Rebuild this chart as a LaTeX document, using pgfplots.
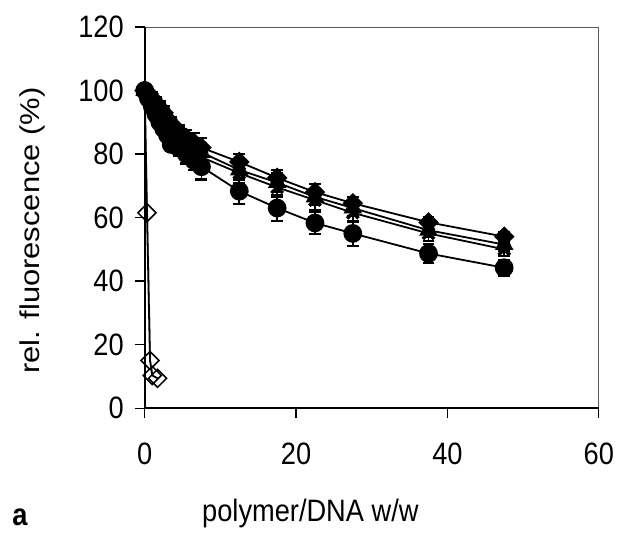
\documentclass[border=0pt]{standalone}
\usepackage{fontspec}
\setmainfont{Liberation Sans}
\usepackage{pgfplots}
\pgfplotsset{compat=1.18}
\newcommand\bigf{\fontsize{31}{36}\selectfont}
\begin{document}
\bigf
\begin{tikzpicture}[x=1pt,y=1pt]
\begin{axis}[
  at={(0,0)}, anchor=origin,
  scale only axis, width=455pt, height=382pt,
  xmin=0, xmax=60, ymin=0, ymax=120,
  xtick={0,20,40,60}, ytick={0,20,...,120},
  xtick pos=left, ytick pos=left,
  tick align=outside, major tick length=10pt,
  tick style={black, line width=1.2pt},
  axis line style={gray!70!black, line width=0.8pt},
  /pgf/number format/assume math mode=true,
  ticklabel style={font=\bigf, xscale=0.88},
  xticklabel style={yshift=-14pt},
  yticklabel style={xshift=-2pt},
  clip=false,
  every axis plot/.append style={line width=1.8pt, black},
  error bars/error bar style={line width=1.8pt, black},
  error bars/error mark options={line width=2.2pt, mark size=6pt, rotate=90},
]
% open diamonds
\addplot[gray!70, line width=1.5pt, mark=none] coordinates {(0,100) (0.35,61.5) (0.75,15) (1.1,10.2)};
\addplot[mark=square, mark size=6.4pt, mark options={fill=white, line width=1.5pt, rotate=45}] coordinates {(0,100) (0.3,61.5) (0.7,15) (1.0,10.3) (1.7,9.4)};
% circles
\addplot[mark=*, mark size=8.5pt, error bars/.cd, y dir=both, y explicit] table[x=x,y=y,y error=e] {
x y e
0 100 1
0.5 97.5 1.5
1 95 2
1.5 92.5 2
2 90 2
2.5 88 2
3 86 2
3.5 83 2
4.5 82 2.5
5.5 80 3
6.5 78 3
7.5 76 4
12.5 68.3 4
17.5 63 4
22.5 58.3 3.5
27.5 55 4
37.5 48.7 3
47.5 44.2 2.5
};
% X
\addplot[mark=x, mark size=8pt, mark options={line width=3.5pt}, error bars/.cd, y dir=both, y explicit] table[x=x,y=y,y error=e] {
x y e
0 100 1
0.5 98 1.5
1 96 2
1.5 94 2
2 92 2
2.5 90.5 2
3 88.5 2
3.5 87 2
4.5 85 2.5
5.5 83 2.5
6.5 81 3
7.5 79 3
12.5 74 3
17.5 69.5 3
22.5 65.5 3
27.5 61.5 3
37.5 55 2.5
47.5 50 2
};
% triangles
\addplot[mark=triangle*, mark size=9pt, error bars/.cd, y dir=both, y explicit] table[x=x,y=y,y error=e] {
x y e
0 100 1
0.5 98.5 1.5
1 96.5 2
1.5 95 2
2 93 2
2.5 91.5 2
3 90 2
3.5 88 2
4.5 86 2.5
5.5 84 2.5
6.5 82 3
7.5 80.5 3
12.5 75 3
17.5 71 3
22.5 66.5 2.5
27.5 63 2.5
37.5 56 2
47.5 51.5 2
};
% diamonds
\addplot[mark=square*, mark size=6.4pt, mark options={rotate=45}, error bars/.cd, y dir=both, y explicit] table[x=x,y=y,y error=e] {
x y e
0 100 1
0.5 99 1.5
1 97.5 2
1.5 96 2
2 94.5 2
2.5 93 2
3 91 2
3.5 89.5 2
4.5 87 2
5.5 85 2.5
6.5 83.5 3
7.5 82 3
12.5 77.5 2.5
17.5 72.5 2.5
22.5 68 2.5
27.5 64.5 2
37.5 58.5 1.5
47.5 54 1.5
};
\draw[black, line width=2pt] (rel axis cs:0,1) -- (rel axis cs:0,0) -- (rel axis cs:1,0);
\end{axis}
\node[rotate=90, yscale=0.88] at (-112,178) {rel. fluorescence (\%)};
\node[xscale=0.88] at (166,-106) {polymer/DNA w/w};
\node[font=\bigf\bfseries, xscale=0.88] at (-125,-109) {a};
\path[use as bounding box] (-145,-122) rectangle (478,409);
\end{tikzpicture}
\end{document}
